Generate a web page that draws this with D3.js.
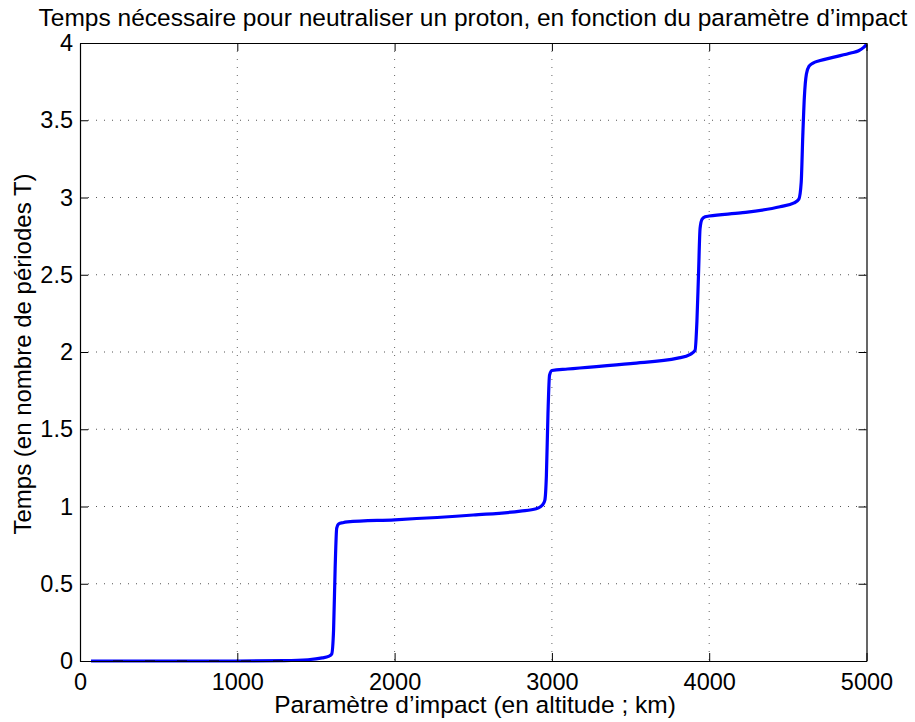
<!DOCTYPE html>
<html><head><meta charset="utf-8">
<script src="https://cdn.jsdelivr.net/npm/d3@7"></script>
<style>body{margin:0;background:#fff}svg{display:block}text{font-family:"Liberation Sans",Arial,sans-serif;fill:#000}</style>
</head><body><svg id="c" width="915" height="722"></svg>
<script>
const titleText = "Temps nécessaire pour neutraliser un proton, en fonction du paramètre d’impact";
const xLabel = "Paramètre d’impact (en altitude ; km)";
const yLabel = "Temps (en nombre de périodes T)";
const xTicks = [0, 1000, 2000, 3000, 4000, 5000];
const yTicks = [0, 0.5, 1, 1.5, 2, 2.5, 3, 3.5, 4];
const impact = [70, 500, 1000, 1300, 1450, 1540, 1580, 1600, 1612, 1622, 1632, 1645, 1670, 1700, 2000, 2500, 2800, 2900, 2940, 2955, 2965, 2975, 2985, 3000, 3100, 3500, 3800, 3880, 3910, 3922, 3932, 3942, 3955, 3975, 4000, 4200, 4450, 4540, 4570, 4585, 4595, 4605, 4618, 4635, 4660, 4700, 4800, 4900, 4950, 4980, 5000];
const temps = [0, 0, 0, 0.002, 0.008, 0.02, 0.03, 0.045, 0.2, 0.6, 0.86, 0.888, 0.895, 0.9, 0.914, 0.945, 0.97, 0.985, 1.01, 1.04, 1.2, 1.6, 1.85, 1.88, 1.89, 1.925, 1.96, 1.985, 2.01, 2.2, 2.5, 2.8, 2.86, 2.875, 2.88, 2.9, 2.94, 2.965, 2.99, 3.1, 3.4, 3.65, 3.8, 3.85, 3.87, 3.885, 3.91, 3.935, 3.95, 3.97, 3.99];

const L = 80, R = 866.5, T = 43, B = 661;
const svg = d3.select("#c");
const x = d3.scaleLinear().domain([0, 5000]).range([L, R]);
const y = d3.scaleLinear().domain([0, 4]).range([B, T]);

// grid
const g = svg.append("g");
g.selectAll("line.vg").data(xTicks.slice(1, -1)).join("line")
  .attr("x1", d => x(d)).attr("x2", d => x(d)).attr("y1", T).attr("y2", B)
  .attr("stroke", "#666").attr("stroke-width", 1).attr("stroke-dasharray", "1,7");
g.selectAll("line.hg").data(yTicks.slice(1, -1)).join("line")
  .attr("y1", d => y(d)).attr("y2", d => y(d)).attr("x1", L).attr("x2", R)
  .attr("stroke", "#555").attr("stroke-width", 1).attr("stroke-dasharray", "1,7");

// data line
const pts = impact.map((d, i) => [d, temps[i]]);
svg.append("path").datum(pts)
  .attr("d", d3.line().x(d => x(d[0])).y(d => y(d[1])).curve(d3.curveMonotoneX))
  .attr("fill", "none").attr("stroke", "#0000ff").attr("stroke-width", 3.2).attr("stroke-linejoin", "round");

// axes with inward ticks on all four sides
const ax = (gen, tr) => svg.append("g").attr("transform", tr).call(gen)
  .call(s => s.selectAll("text").style("font-size", "23.5px").style("font-family", '"Liberation Sans",Arial,sans-serif'));
ax(d3.axisBottom(x).tickValues(xTicks).tickSizeInner(-8).tickSizeOuter(0).tickPadding(12).tickFormat(d3.format("d")), `translate(0,${B})`);
ax(d3.axisTop(x).tickValues(xTicks).tickSizeInner(-8).tickSizeOuter(0).tickFormat(""), `translate(0,${T})`);
ax(d3.axisLeft(y).tickValues(yTicks).tickSizeInner(-8).tickSizeOuter(0).tickPadding(7).tickFormat(d => String(d)), `translate(${L},0)`);
ax(d3.axisRight(y).tickValues(yTicks).tickSizeInner(-8).tickSizeOuter(0).tickFormat(""), `translate(${R},0)`);
svg.selectAll(".domain").attr("stroke", "#000").attr("stroke-width", 1.2);
svg.selectAll(".tick line").attr("stroke", "#000");
// bottom axis sits under the line at y=0 in the reference: dashed look
svg.append("line").attr("x1", x(impact[0])).attr("x2", x(1300)).attr("y1", y(0)).attr("y2", y(0))
  .attr("stroke", "#000").attr("stroke-width", 1.2).attr("stroke-dasharray", "0,22,10,0");

// labels
svg.append("text").attr("x", 473).attr("y", 26).attr("text-anchor", "middle").style("font-size", "24.5px").text(titleText);
svg.append("text").attr("x", 475).attr("y", 713).attr("text-anchor", "middle").style("font-size", "24.5px").text(xLabel);
svg.append("text").attr("transform", "translate(31,354) rotate(-90)").attr("text-anchor", "middle").style("font-size", "24px").text(yLabel);
</script></body></html>
